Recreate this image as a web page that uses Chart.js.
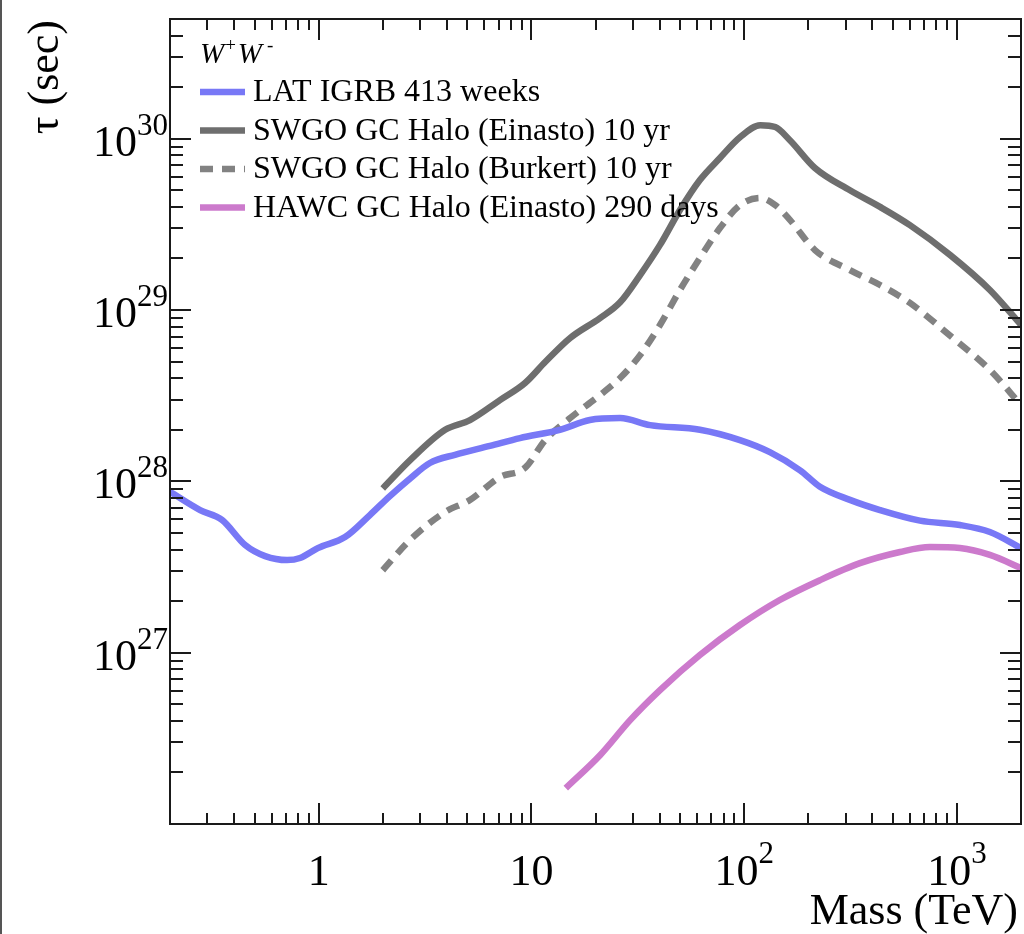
<!DOCTYPE html>
<html><head><meta charset="utf-8">
<script src="https://cdn.jsdelivr.net/npm/chart.js@4.4.1/dist/chart.umd.min.js"></script>
<style>html,body{margin:0;padding:0;background:#fff;overflow:hidden}canvas{display:block}</style>
</head><body>
<canvas id="c" width="1024" height="934" style="width:1024px;height:934px"></canvas>
<script>
// ---- Data ----
const latMass = [0.2, 0.277, 0.351, 0.451, 0.56, 0.71, 0.817, 0.99, 1.33, 1.74, 2.16, 2.69, 3.33, 4.37, 6.38, 8.83, 13.6, 18.8, 26.1, 36.1, 61.9, 95.5, 132, 183, 227, 314, 435, 670, 1033, 1428, 2000];
const latTau  = [8.7e27, 6.8e27, 5.96e27, 4.25e27, 3.66e27, 3.47e27, 3.57e27, 4.08e27, 4.73e27, 6.36e27, 8.2e27, 1.04e28, 1.28e28, 1.43e28, 1.61e28, 1.79e28, 2.0e28, 2.28e28, 2.34e28, 2.13e28, 2.0e28, 1.74e28, 1.48e28, 1.16e28, 9.3e27, 7.8e27, 6.8e27, 5.9e27, 5.56e27, 5.06e27, 4.08e27];

const swgoMass   = [2.0, 2.69, 3.93, 5.14, 7.11, 9.33, 11.6, 15.2, 21.0, 26.1, 32.4, 40.2, 49.9, 61.9, 76.9, 95.5, 119, 140, 164, 215, 314, 435, 601, 927, 1428, 2000];
const swgoEinTau = [9.1e27, 1.33e28, 2.0e28, 2.28e28, 2.98e28, 3.75e28, 4.97e28, 6.87e28, 8.98e28, 1.11e29, 1.6e29, 2.4e29, 3.84e29, 5.74e29, 7.72e29, 1.02e30, 1.2e30, 1.17e30, 9.8e29, 6.75e29, 5.0e29, 4.0e29, 3.13e29, 2.1e29, 1.31e29, 8.2e28];
const swgoBurTau = [3.03e27, 4.55e27, 6.63e27, 7.78e27, 1.06e28, 1.2e28, 1.74e28, 2.34e28, 3.19e28, 4.01e28, 5.46e28, 8.18e28, 1.31e29, 2.01e29, 3.01e29, 4.1e29, 4.51e29, 4.1e29, 3.36e29, 2.24e29, 1.71e29, 1.4e29, 1.1e29, 7.1e28, 4.47e28, 2.79e28];

const hawcMass = [14.5, 21.0, 29.1, 40.2, 61.9, 95.5, 147, 227, 350, 540, 746, 1033, 1428, 2000];
const hawcTau  = [1.62e26, 2.52e26, 4.04e26, 6.05e26, 9.69e26, 1.45e27, 2.03e27, 2.65e27, 3.33e27, 3.87e27, 4.14e27, 4.08e27, 3.72e27, 3.12e27];

const seriesLabels = ['LAT IGRB 413 weeks', 'SWGO GC Halo (Einasto) 10 yr', 'SWGO GC Halo (Burkert) 10 yr', 'HAWC GC Halo (Einasto) 290 days'];

const xRange = [0.2, 2000];
const yRange = [1e26, 5e30];
const xTickValues = [1, 10, 100, 1000];
const xTickLabels = ['1', '10', '10^2', '10^3'];
const yTickValues = [1e27, 1e28, 1e29, 1e30];
const yTickLabels = ['10^27', '10^28', '10^29', '10^30'];
const xTitle = 'Mass (TeV)';
const yTitle = 'τ (sec)';

// ---- Build datasets ----
const pts = (xs, ys) => xs.map((v, i) => ({x: v, y: ys[i]}));
const FONT = '"Liberation Serif", "Times New Roman", serif';

const datasets = [
  {label: seriesLabels[0], data: pts(latMass, latTau), borderColor: '#7878f6', borderWidth: 6.5},
  {label: seriesLabels[1], data: pts(swgoMass, swgoEinTau), borderColor: '#6e6e6e', borderWidth: 6.5},
  {label: seriesLabels[2], data: pts(swgoMass, swgoBurTau), borderColor: '#828282', borderWidth: 6.5, borderDash: [13, 9]},
  {label: seriesLabels[3], data: pts(hawcMass, hawcTau), borderColor: '#cc7acc', borderWidth: 6.5}
].map(d => Object.assign({pointRadius: 0, fill: false, cubicInterpolationMode: 'monotone', borderCapStyle: 'butt'}, d));

function drawSup(ctx, text, x, y, align, baseSize, supSize, supRise) {
  const parts = text.split('^');
  const base = parts[0], sup = parts[1] || '';
  ctx.font = baseSize + 'px ' + FONT;
  const wb = ctx.measureText(base).width;
  ctx.font = supSize + 'px ' + FONT;
  const ws = sup ? ctx.measureText(sup).width : 0;
  const total = wb + ws;
  let x0 = align === 'right' ? x - total : (align === 'center' ? x - total / 2 : x);
  ctx.textAlign = 'left';
  ctx.textBaseline = 'alphabetic';
  ctx.font = baseSize + 'px ' + FONT;
  ctx.fillText(base, x0, y);
  if (sup) {
    ctx.font = supSize + 'px ' + FONT;
    ctx.fillText(sup, x0 + wb, y - supRise);
  }
}

const decorPlugin = {
  id: 'decor',
  afterDatasetsDraw(chart) {
    const {ctx, chartArea: a} = chart;
    const xs = chart.scales.x, ys = chart.scales.y;
    ctx.save();
    ctx.strokeStyle = '#1a1a1a';
    ctx.fillStyle = '#000';
    ctx.lineWidth = 2;
    const seg = (x1, y1, x2, y2) => { ctx.beginPath(); ctx.moveTo(x1, y1); ctx.lineTo(x2, y2); ctx.stroke(); };
    // frame
    ctx.strokeRect(a.left, a.top, a.right - a.left, a.bottom - a.top);
    // x ticks (inward, bottom and top)
    for (let e = -1; e <= 3; e++) for (let m = 1; m <= 9; m++) {
      const v = m * Math.pow(10, e);
      if (v < xRange[0] * 0.999 || v > xRange[1] * 1.001) continue;
      const px = Math.round(xs.getPixelForValue(v));
      const len = m === 1 ? 21 : 11;
      seg(px, a.bottom, px, a.bottom - len);
      seg(px, a.top, px, a.top + len);
    }
    // y ticks (inward, left and right)
    for (let e = 26; e <= 30; e++) for (let m = 1; m <= 9; m++) {
      const v = m * Math.pow(10, e);
      if (v < yRange[0] * 0.999 || v > yRange[1] * 1.001) continue;
      const py = Math.round(ys.getPixelForValue(v));
      const len = m === 1 ? 21 : 13;
      seg(a.left, py, a.left + len, py);
      seg(a.right, py, a.right - len, py);
    }
    // tick labels
    xTickValues.forEach((v, i) => {
      drawSup(ctx, xTickLabels[i], xs.getPixelForValue(v), a.bottom + 61, 'center', 44, 31, 22);
    });
    yTickValues.forEach((v, i) => {
      drawSup(ctx, yTickLabels[i], a.left - 2, ys.getPixelForValue(v) + 17, 'right', 44, 31, 21);
    });
    // axis titles
    ctx.font = '44px ' + FONT;
    ctx.textAlign = 'right';
    ctx.textBaseline = 'alphabetic';
    ctx.fillText(xTitle, a.right - 3, a.bottom + 100);
    ctx.save();
    ctx.translate(58, 20);
    ctx.rotate(-Math.PI / 2);
    ctx.textAlign = 'right';
    ctx.textBaseline = 'alphabetic';
    ctx.fillText(yTitle, 0, 0);
    ctx.restore();
    // legend header W+W-
    ctx.textAlign = 'left';
    ctx.textBaseline = 'alphabetic';
    ctx.font = 'italic 29px ' + FONT;
    let hx = a.left + 30;
    const hy = a.top + 44;
    ctx.fillText('W', hx, hy); hx += ctx.measureText('W').width + 1;
    ctx.font = '19px ' + FONT; ctx.fillText('+', hx, hy - 12); hx += ctx.measureText('+').width + 2;
    ctx.font = 'italic 29px ' + FONT; ctx.fillText('W', hx, hy); hx += ctx.measureText('W').width + 5;
    ctx.font = '19px ' + FONT; ctx.fillText('-', hx, hy - 12);
    // legend entries
    chart.data.datasets.forEach((d, i) => {
      const cy = a.top + 73 + i * 38.5;
      ctx.save();
      ctx.strokeStyle = d.borderColor;
      ctx.lineWidth = 6.5;
      ctx.setLineDash(d.borderDash || []);
      seg(a.left + 30, cy, a.left + 75, cy);
      ctx.restore();
      ctx.font = '32px ' + FONT;
      ctx.textBaseline = 'middle';
      ctx.fillStyle = '#000';
      ctx.fillText(d.label, a.left + 83, cy + 1);
    });
    // thin page border at left
    ctx.strokeStyle = '#555';
    ctx.lineWidth = 2;
    seg(1, 0, 1, chart.height);
    ctx.restore();
  }
};

new Chart(document.getElementById('c'), {
  type: 'line',
  data: {datasets},
  options: {
    responsive: false,
    animation: false,
    devicePixelRatio: 1,
    layout: {padding: {left: 170, right: 3, top: 19, bottom: 110}},
    scales: {
      x: {type: 'logarithmic', min: xRange[0], max: xRange[1], display: false},
      y: {type: 'logarithmic', min: yRange[0], max: yRange[1], display: false}
    },
    plugins: {legend: {display: false}, tooltip: {enabled: false}},
    elements: {point: {radius: 0}}
  },
  plugins: [decorPlugin]
});
</script>
</body></html>
